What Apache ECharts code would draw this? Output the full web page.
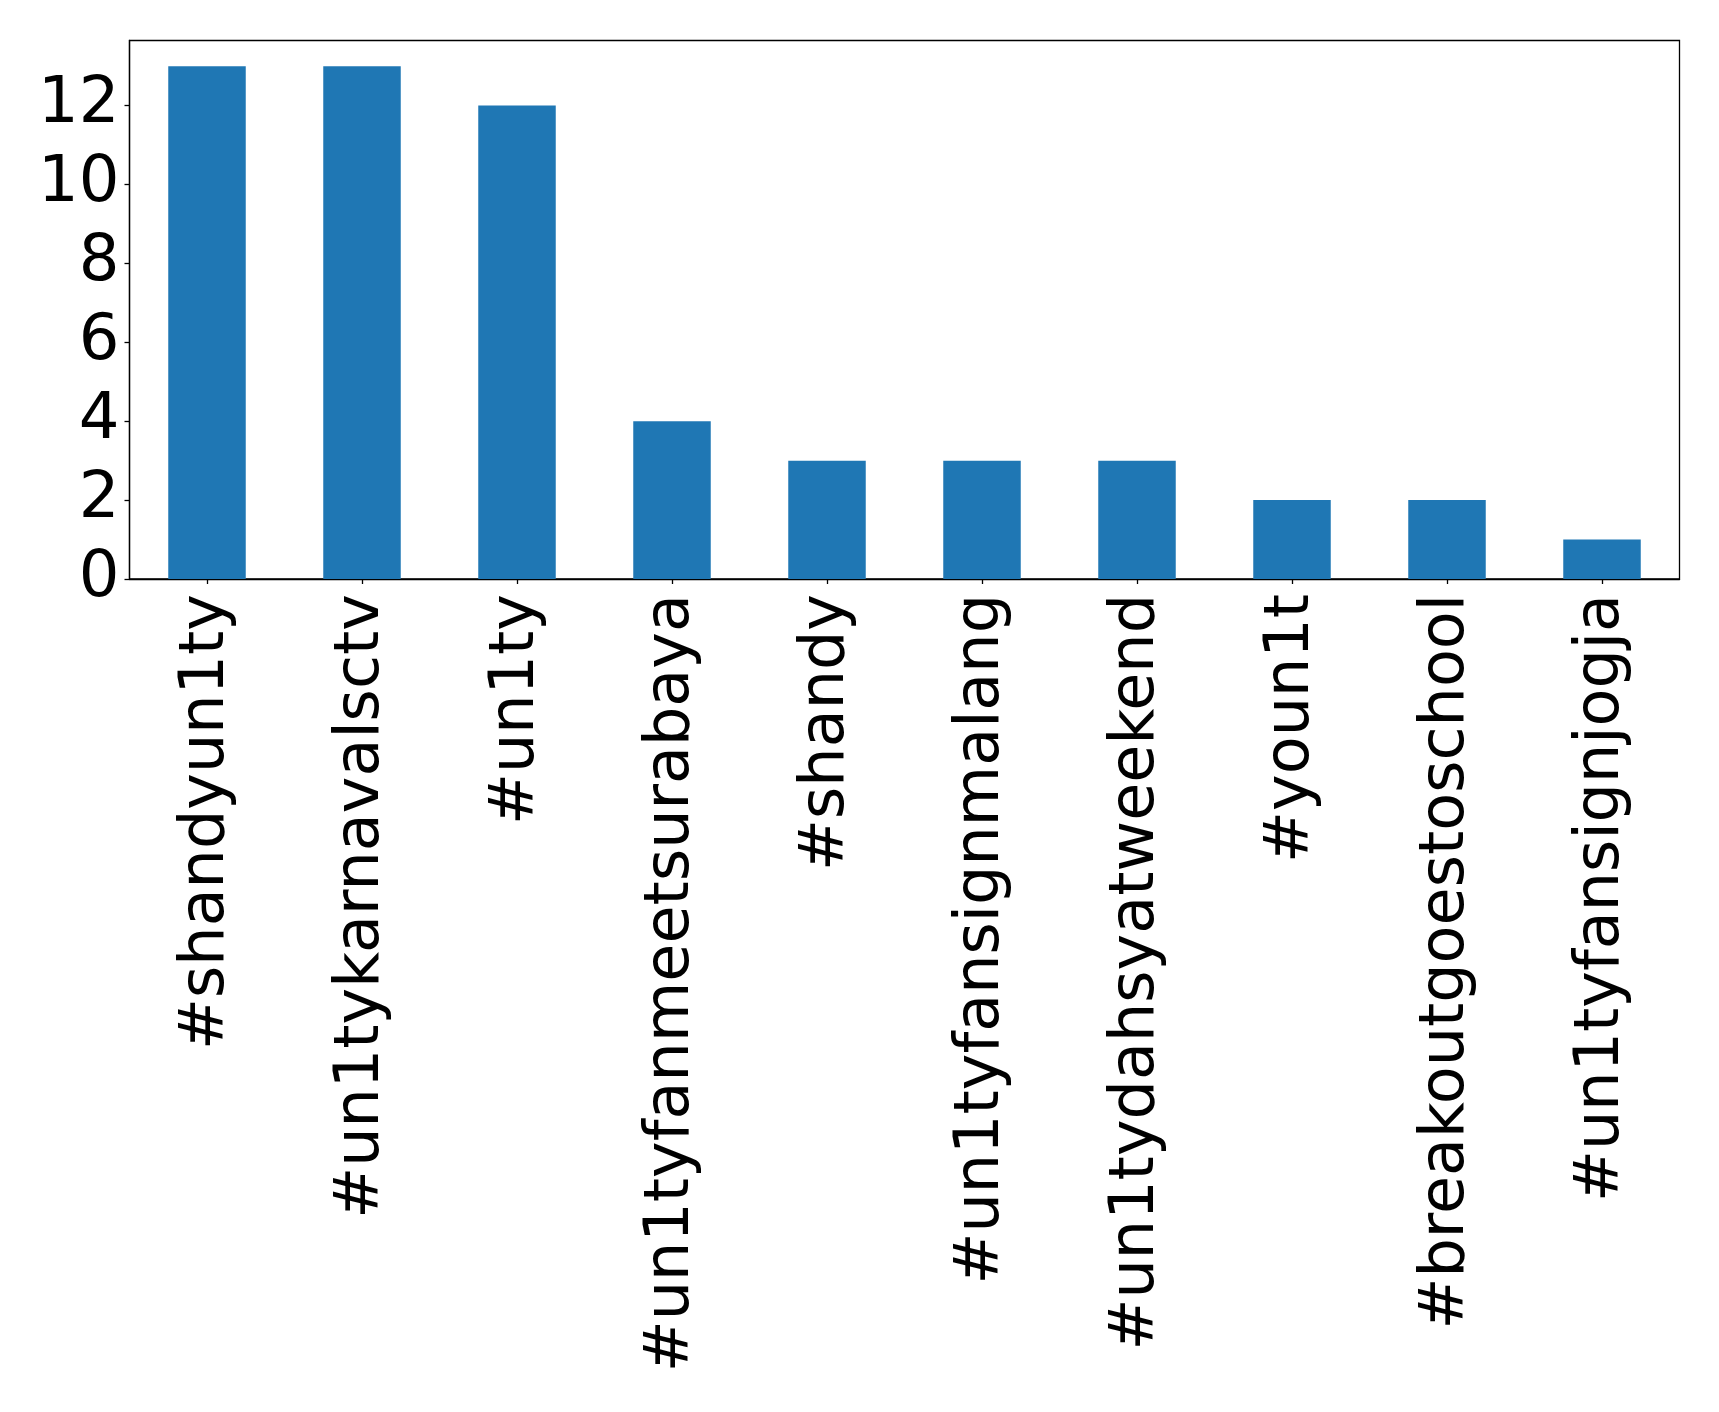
<!DOCTYPE html>
<html>
<head>
<meta charset="utf-8">
<script src="https://cdn.jsdelivr.net/npm/echarts@6/dist/echarts.min.js"></script>
<style>html,body{margin:0;padding:0;background:#fff}#c{width:1719px;height:1412px}</style>
</head>
<body>
<div id="c"></div>
<script>
const categories = ['#shandyun1ty','#un1tykarnavalsctv','#un1ty','#un1tyfanmeetsurabaya','#shandy','#un1tyfansignmalang','#un1tydahsyatweekend','#youn1t','#breakoutgoestoschool','#un1tyfansignjogja'];
const counts = [13,13,12,4,3,3,3,2,2,1];
const yTicks = [0,2,4,6,8,10,12];

const chart = echarts.init(document.getElementById('c'), null, {renderer:'canvas'});
const font = 'DejaVu Sans';
chart.setOption({
  animation: false,
  grid: {left: 129.5, top: 40.5, right: 39.5, bottom: 833, show: true, borderColor: '#000', borderWidth: 1.3, backgroundColor: 'transparent'},
  xAxis: {
    type: 'category', data: categories, boundaryGap: true,
    axisLine: {show: true, lineStyle: {color: '#000', width: 1.3}},
    axisTick: {show: true, alignWithLabel: true, length: 5, lineStyle: {color: '#000', width: 1.3}},
    axisLabel: {rotate: 90, interval: 0, fontFamily: font, fontSize: 62, color: '#000', margin: 15}
  },
  yAxis: {
    type: 'value', min: 0, max: 13.65, interval: 2,
    splitLine: {show: false},
    axisLine: {show: true, lineStyle: {color: '#000', width: 1.3}},
    axisTick: {show: true, length: 5, lineStyle: {color: '#000', width: 1.3}},
    axisLabel: {fontFamily: font, fontSize: 64, color: '#000', margin: 10,
      formatter: v => yTicks.includes(v) ? String(v) : '',
      showMaxLabel: false}
  },
  series: [{type: 'bar', data: counts, barWidth: '50%', itemStyle: {color: '#1f77b4'}}]
});
</script>
</body>
</html>
